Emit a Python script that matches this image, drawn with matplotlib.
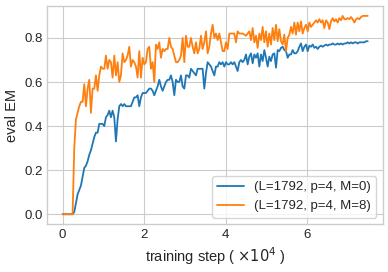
import numpy as np
import matplotlib
matplotlib.use("Agg")
import matplotlib.pyplot as plt

labels = ["(L=1792, p=4, M=0)", "(L=1792, p=4, M=8)"]

em_m0 = [0, 0, 0, 0, 0, 0, 0,
         0.01, 0.05, 0.09, 0.11, 0.13, 0.17, 0.21, 0.22, 0.24, 0.27, 0.29, 0.32, 0.35, 0.37, 0.37,
         0.41, 0.41, 0.41, 0.40, 0.44, 0.45, 0.47, 0.44, 0.47, 0.44, 0.33, 0.43, 0.49, 0.50, 0.49,
         0.50, 0.49, 0.49, 0.49, 0.49, 0.51, 0.53, 0.53, 0.54, 0.49, 0.53, 0.55, 0.55, 0.55, 0.56,
         0.57, 0.57, 0.56, 0.54, 0.56, 0.58, 0.61, 0.58, 0.56, 0.58, 0.60, 0.61, 0.61, 0.63, 0.60,
         0.54, 0.61, 0.60, 0.60, 0.63, 0.58, 0.57, 0.63, 0.63, 0.62, 0.66, 0.65, 0.64, 0.63, 0.66,
         0.66, 0.66, 0.66, 0.57, 0.64, 0.69, 0.68, 0.67, 0.65, 0.63, 0.67, 0.67, 0.69, 0.68, 0.69,
         0.67, 0.69, 0.68, 0.68, 0.69, 0.68, 0.69, 0.67, 0.65, 0.69, 0.70,
         0.69, 0.70, 0.725, 0.68, 0.715, 0.73, 0.685, 0.725, 0.71, 0.73, 0.67, 0.725, 0.695, 0.745,
         0.71, 0.67, 0.715, 0.695, 0.725, 0.73, 0.665, 0.745, 0.74, 0.755, 0.76, 0.745, 0.74, 0.71,
         0.725, 0.725, 0.745, 0.73, 0.73, 0.74, 0.76, 0.775, 0.74, 0.76, 0.77, 0.74, 0.765, 0.76,
         0.77, 0.755, 0.76, 0.75, 0.76, 0.765, 0.76, 0.765, 0.77, 0.765, 0.77, 0.77, 0.775, 0.77,
         0.77, 0.775, 0.77, 0.775, 0.77, 0.775, 0.775, 0.78, 0.775, 0.78, 0.775, 0.78, 0.78, 0.775,
         0.78, 0.78, 0.78, 0.78, 0.785, 0.785]

em_m8 = [0, 0, 0, 0, 0, 0, 0,
         0.30, 0.43, 0.46, 0.49, 0.51, 0.51, 0.59, 0.49, 0.57, 0.61, 0.46, 0.57, 0.57, 0.63, 0.56,
         0.63, 0.67, 0.66, 0.66, 0.72, 0.66, 0.70, 0.69, 0.62, 0.72, 0.63, 0.69, 0.60, 0.63, 0.73,
         0.69, 0.70, 0.72, 0.76, 0.67, 0.70, 0.69, 0.67, 0.62, 0.74, 0.62, 0.71, 0.68, 0.69, 0.75,
         0.76, 0.66, 0.69, 0.60, 0.77, 0.75, 0.78, 0.71, 0.75, 0.74, 0.75, 0.75, 0.80, 0.76, 0.75,
         0.72, 0.69, 0.69, 0.70, 0.72, 0.80, 0.69, 0.81, 0.76, 0.76, 0.80, 0.76, 0.73, 0.78, 0.73,
         0.75, 0.81, 0.75, 0.78, 0.83, 0.73, 0.76, 0.82, 0.86, 0.80, 0.82, 0.79, 0.82, 0.78, 0.74,
         0.74, 0.78, 0.75, 0.82, 0.82, 0.82, 0.82, 0.78, 0.83, 0.82, 0.82,
         0.82, 0.815, 0.81, 0.82, 0.83, 0.79, 0.845, 0.78, 0.81, 0.755, 0.82, 0.79, 0.85, 0.78,
         0.83, 0.76, 0.82, 0.77, 0.845, 0.79, 0.86, 0.785, 0.84, 0.785, 0.77, 0.815, 0.74, 0.80,
         0.815, 0.85, 0.82, 0.87, 0.815, 0.87, 0.83, 0.875, 0.82, 0.845, 0.86, 0.83, 0.87, 0.85,
         0.86, 0.87, 0.88, 0.87, 0.885, 0.87, 0.88, 0.845, 0.88, 0.87, 0.84, 0.875, 0.89, 0.875,
         0.885, 0.87, 0.89, 0.88, 0.90, 0.885, 0.885, 0.89, 0.885, 0.895, 0.885, 0.87, 0.885, 0.89,
         0.885, 0.895, 0.90, 0.90, 0.90, 0.90]

last_step = 7.475  # in units of 1e4 training steps
steps = np.linspace(0, last_step, len(em_m0))

plt.style.use("seaborn-v0_8-whitegrid")
plt.rcParams["font.family"] = ["Liberation Sans", "DejaVu Sans"]
plt.rcParams["mathtext.fontset"] = "dejavusans"

fig = plt.figure(figsize=(3.88, 2.72), dpi=100)
ax = fig.add_axes([0.122, 0.176, 0.865, 0.802])
ax.plot(steps, em_m0, color="#1f77b4", lw=1.3, label=labels[0])
ax.plot(steps, em_m8, color="#ff7f0e", lw=1.3, label=labels[1])

ax.set_xticks([0, 2, 4, 6])
ax.set_yticks([0.0, 0.2, 0.4, 0.6, 0.8])
ax.tick_params(labelsize=9.5, colors="#262626", pad=3.5)
ax.set_xlabel(r"training step ( $\times10^4$ )", fontsize=10.5, color="#262626", labelpad=3)
ax.set_ylabel("eval EM", fontsize=10.5, color="#262626", labelpad=4)
for s in ax.spines.values():
    s.set_color("#cccccc")
    s.set_visible(True)
ax.grid(True, color="#cccccc", lw=0.8)
ax.legend(loc="lower right", fontsize=9.5, frameon=True, framealpha=0.8,
          edgecolor="#cccccc", fancybox=True)
fig.savefig("out.png", dpi=100)
